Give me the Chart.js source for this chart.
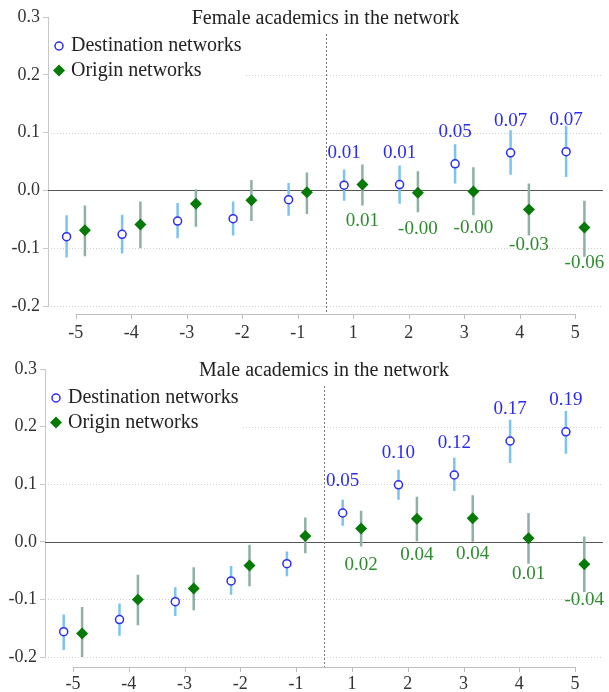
<!DOCTYPE html>
<html>
<head>
<meta charset="utf-8">
<script src="https://cdn.jsdelivr.net/npm/chart.js@4/dist/chart.umd.min.js"></script>
<style>
  body { margin: 0; background: #fff; }
  canvas { position: absolute; left: 0; }
  #top { top: 0; }
  #bottom { top: 346px; }
</style>
</head>
<body>
<canvas id="top" width="609" height="346"></canvas>
<canvas id="bottom" width="609" height="346"></canvas>
<script>
// event time (years relative to the move)
const xLabels = ['-5', '-4', '-3', '-2', '-1', '1', '2', '3', '4', '5'];
const yTicks = [-0.2, -0.1, 0, 0.1, 0.2, 0.3];

// female academics
const destF   = [-0.080, -0.076, -0.053, -0.049, -0.016, 0.009, 0.010, 0.046, 0.065, 0.067];
const destFLo = [-0.116, -0.109, -0.083, -0.078, -0.044, -0.018, -0.023, 0.012, 0.027, 0.023];
const destFHi = [-0.043, -0.042, -0.022, -0.019, 0.013, 0.036, 0.043, 0.080, 0.104, 0.112];
const origF   = [-0.069, -0.059, -0.023, -0.017, -0.003, 0.010, -0.004, -0.002, -0.033, -0.064];
const origFLo = [-0.114, -0.100, -0.063, -0.053, -0.041, -0.026, -0.038, -0.043, -0.078, -0.115];
const origFHi = [-0.026, -0.019, 0.002, 0.018, 0.031, 0.045, 0.033, 0.040, 0.012, -0.018];
const destFTxt = ['0.01', '0.01', '0.05', '0.07', '0.07'];
const origFTxt = ['0.01', '-0.00', '-0.00', '-0.03', '-0.06'];

// male academics
const destM   = [-0.156, -0.135, -0.104, -0.068, -0.038, 0.050, 0.099, 0.116, 0.175, 0.191];
const destMLo = [-0.188, -0.163, -0.129, -0.092, -0.060, 0.028, 0.073, 0.088, 0.137, 0.153];
const destMHi = [-0.126, -0.107, -0.079, -0.042, -0.017, 0.073, 0.125, 0.146, 0.212, 0.227];
const origM   = [-0.159, -0.100, -0.081, -0.041, 0.010, 0.023, 0.040, 0.041, 0.006, -0.039];
const origMLo = [-0.204, -0.145, -0.119, -0.077, -0.020, -0.008, 0.001, 0.000, -0.038, -0.087];
const origMHi = [-0.113, -0.057, -0.044, -0.005, 0.042, 0.054, 0.078, 0.081, 0.050, 0.009];
const destMTxt = ['0.05', '0.10', '0.12', '0.17', '0.19'];
const origMTxt = ['0.02', '0.04', '0.04', '0.01', '-0.04'];

const SERIF = '"Liberation Serif", "Times New Roman", serif';
const BLUE = '#2b2bf5';
const GREEN = '#067a06';
const OFF = 0.165;

function ciData(lo, hi, shift) {
  const out = [];
  lo.forEach((v, i) => {
    out.push({ x: i + shift, y: v });
    out.push({ x: i + shift, y: hi[i] });
    out.push({ x: i + shift, y: null });
  });
  return out;
}

function makeChart(id, title, d, g) {
  const decor = {
    id: 'decor',
    beforeDatasetsDraw(chart) {
      const { ctx, chartArea: a, scales: { x, y } } = chart;
      ctx.save();
      // dotted grid
      ctx.strokeStyle = '#cfcfcf';
      ctx.lineWidth = 1;
      ctx.setLineDash([1, 2]);
      yTicks.forEach(t => {
        if (t === 0 || t === 0.3) return;
        const py = Math.round(y.getPixelForValue(t)) + 0.5;
        ctx.beginPath(); ctx.moveTo(a.left, py); ctx.lineTo(a.right, py); ctx.stroke();
      });
      // legend box hides grid
      ctx.fillStyle = '#fff';
      ctx.fillRect(a.left + 1, a.top + 12, 196, 70);
      // zero line
      ctx.setLineDash([]);
      ctx.strokeStyle = '#555';
      const y0 = Math.round(y.getPixelForValue(0)) + 0.5;
      ctx.beginPath(); ctx.moveTo(a.left, y0); ctx.lineTo(a.right, y0); ctx.stroke();
      // x axis line, Stata style from first to last tick
      const xl = a.bottom + g.xLine;
      ctx.strokeStyle = '#bdbdbd';
      ctx.beginPath();
      ctx.moveTo(x.getPixelForValue(0), xl + 0.5);
      ctx.lineTo(x.getPixelForValue(xLabels.length - 1), xl + 0.5);
      ctx.stroke();
      for (let i = 0; i < xLabels.length; i++) {
        const px = Math.round(x.getPixelForValue(i)) + 0.5;
        ctx.beginPath(); ctx.moveTo(px, xl); ctx.lineTo(px, xl + 5); ctx.stroke();
      }
      // break line between -1 and 1
      const xm = Math.round(x.getPixelForValue(4.5)) + 0.5;
      ctx.strokeStyle = '#777';
      ctx.setLineDash([2, 2]);
      ctx.beginPath(); ctx.moveTo(xm, a.top + 17); ctx.lineTo(xm, xl); ctx.stroke();
      ctx.restore();
    },
    afterDatasetsDraw(chart) {
      const { ctx, chartArea: a, scales: { x, y } } = chart;
      ctx.save();
      ctx.textAlign = 'center';
      ctx.textBaseline = 'middle';
      // title
      ctx.fillStyle = '#222';
      ctx.font = '20px ' + SERIF;
      ctx.fillText(title, (a.left + a.right) / 2, a.top + 2);
      // point labels for post-move years
      ctx.font = '19px ' + SERIF;
      for (let i = 5; i < xLabels.length; i++) {
        ctx.fillStyle = BLUE;
        ctx.fillText(d.destTxt[i - 5], x.getPixelForValue(i - OFF), y.getPixelForValue(d.dest[i]) - 32);
        ctx.fillStyle = '#2e8b2e';
        ctx.fillText(d.origTxt[i - 5], x.getPixelForValue(i + OFF), y.getPixelForValue(d.orig[i]) + 36);
      }
      // legend
      const lx = a.left + 11;
      const l1 = a.top + 29, l2 = a.top + 53.5;
      ctx.lineWidth = 1.5;
      ctx.strokeStyle = BLUE;
      ctx.fillStyle = '#fff';
      ctx.beginPath(); ctx.arc(lx, l1, 4, 0, Math.PI * 2); ctx.fill(); ctx.stroke();
      ctx.fillStyle = GREEN;
      ctx.beginPath();
      ctx.moveTo(lx, l2 - 6); ctx.lineTo(lx + 6, l2); ctx.lineTo(lx, l2 + 6); ctx.lineTo(lx - 6, l2);
      ctx.closePath(); ctx.fill();
      ctx.fillStyle = '#222';
      ctx.textAlign = 'left';
      ctx.font = '20px ' + SERIF;
      ctx.fillText('Destination networks', lx + 12, l1);
      ctx.fillText('Origin networks', lx + 12, l2);
      ctx.restore();
    }
  };

  return new Chart(document.getElementById(id), {
    type: 'scatter',
    data: {
      datasets: [
        {
          label: 'Destination networks',
          data: d.dest.map((v, i) => ({ x: i - OFF, y: v })),
          pointStyle: 'circle',
          pointRadius: 4,
          pointBorderWidth: 1.5,
          pointBorderColor: BLUE,
          pointBackgroundColor: '#fff',
          order: 1
        },
        {
          label: 'Origin networks',
          data: d.orig.map((v, i) => ({ x: i + OFF, y: v })),
          pointStyle: 'rectRot',
          pointRadius: 6,
          pointBorderWidth: 0,
          pointBorderColor: GREEN,
          pointBackgroundColor: GREEN,
          order: 2
        },
        {
          type: 'line',
          data: ciData(d.destLo, d.destHi, -OFF),
          borderColor: '#7cc4ee',
          borderWidth: 2.5,
          pointRadius: 0,
          spanGaps: false,
          order: 3
        },
        {
          type: 'line',
          data: ciData(d.origLo, d.origHi, OFF),
          borderColor: '#8fb0a4',
          borderWidth: 2.5,
          pointRadius: 0,
          spanGaps: false,
          order: 4
        }
      ]
    },
    options: {
      responsive: false,
      animation: false,
      events: [],
      layout: { padding: { top: g.top, left: 0, right: 0, bottom: 0 } },
      plugins: { legend: { display: false }, tooltip: { enabled: false } },
      scales: {
        x: {
          type: 'linear',
          min: -0.5,
          max: 9.5,
          offset: false,
          grid: { display: false, offset: false },
          border: { display: false },
          afterBuildTicks: s => { s.ticks = xLabels.map((_, i) => ({ value: i })); },
          afterFit: s => { s.height = g.xh; },
          ticks: {
            autoSkip: false,
            maxRotation: 0,
            padding: g.xpad,
            color: '#333',
            font: { family: SERIF, size: 18 },
            callback: v => xLabels[v]
          }
        },
        y: {
          min: -0.2,
          max: 0.3,
          grid: { drawOnChartArea: false, tickLength: 5, tickColor: '#c8c8c8' },
          border: { color: '#c8c8c8' },
          afterBuildTicks: s => { s.ticks = yTicks.map(v => ({ value: v })); },
          afterFit: s => { s.width = g.yw; },
          ticks: {
            padding: 3,
            color: '#333',
            font: { family: SERIF, size: 18 },
            callback: v => v.toFixed(1)
          }
        }
      }
    },
    plugins: [decor]
  });
}

makeChart('top', 'Female academics in the network',
  { dest: destF, destLo: destFLo, destHi: destFHi, orig: origF, origLo: origFLo, origHi: origFHi, destTxt: destFTxt, origTxt: origFTxt },
  { top: 17, xh: 40, yw: 48, xLine: 8, xpad: 8 });

makeChart('bottom', 'Male academics in the network',
  { dest: destM, destLo: destMLo, destHi: destMHi, orig: origM, origLo: origMLo, origHi: origMHi, destTxt: destMTxt, origTxt: origMTxt },
  { top: 23, xh: 35, yw: 45, xLine: 10, xpad: 8 });
</script>
</body>
</html>
